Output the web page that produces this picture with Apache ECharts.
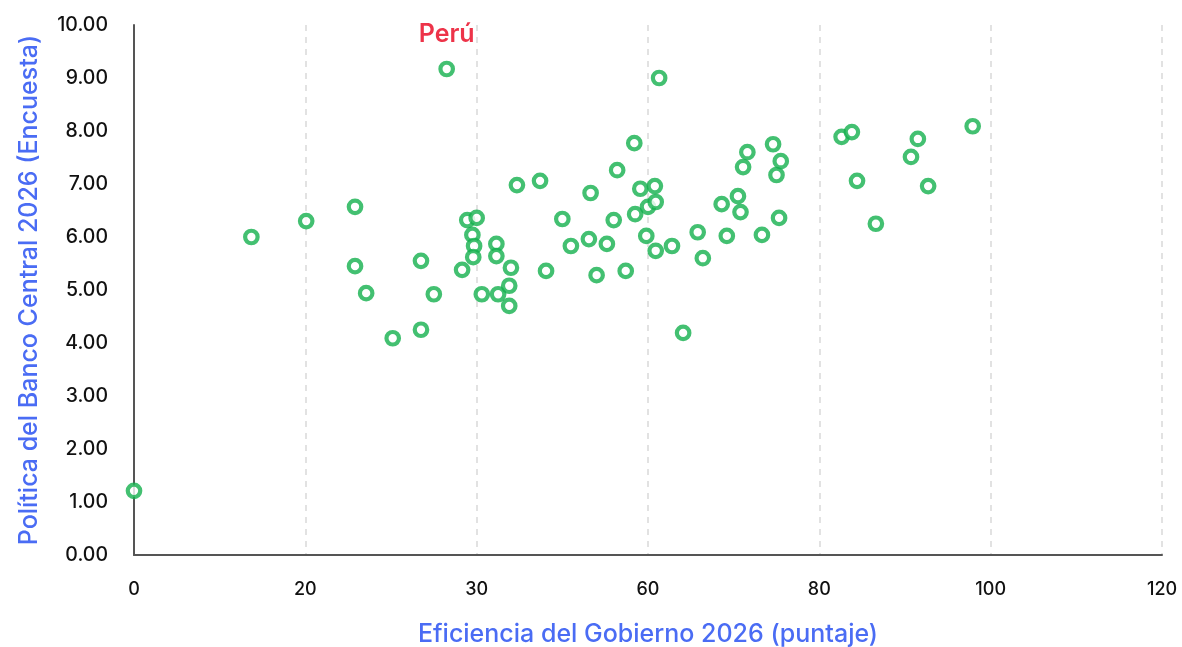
<!DOCTYPE html>
<html>
<head>
<meta charset="utf-8">
<script src="https://cdn.jsdelivr.net/npm/echarts@6/dist/echarts.min.js"></script>
<style>
    html, body { margin: 0; padding: 0; background: #fff; }
    #chart { width: 1182px; height: 647px; }
</style>
</head>
<body>
<div id="chart"></div>
<script>
// eficiencia del gobierno (x) / politica del banco central (y)
var efficiency = [0, 13.7, 20.1, 25.8, 25.8, 27.1, 30.2, 33.5, 33.5, 35.0,
    38.3, 38.9, 40.0, 39.5, 39.7, 39.6, 40.6, 42.3, 42.3, 42.5,
    43.8, 44.0, 43.8, 44.7, 47.4, 48.1, 50.0, 51.0, 53.1, 53.3,
    54.0, 55.2, 56.0, 56.4, 57.4, 58.4, 58.5, 59.1, 59.8, 60.0,
    60.9, 60.8, 60.9, 61.3, 62.8, 64.1, 65.8, 66.4, 68.6, 69.2,
    70.5, 70.8, 71.1, 71.6, 73.3, 74.6, 75.0, 75.5, 75.3, 82.6,
    83.8, 84.4, 86.6, 90.7, 91.5, 92.7, 97.9];
var policy = [1.21, 6.00, 6.30, 6.57, 5.45, 4.94, 4.09, 4.25, 5.55, 4.92,
    5.38, 6.32, 6.36, 6.04, 5.83, 5.62, 4.92, 5.87, 5.64, 4.92,
    5.08, 5.42, 4.70, 6.98, 7.06, 5.36, 6.34, 5.83, 5.96, 6.83,
    5.28, 5.87, 6.32, 7.26, 5.36, 7.77, 6.43, 6.91, 6.02, 6.57,
    6.66, 6.96, 5.74, 9.00, 5.83, 4.19, 6.09, 5.60, 6.62, 6.02,
    6.77, 6.47, 7.32, 7.60, 6.04, 7.75, 7.17, 7.43, 6.36, 7.89,
    7.98, 7.06, 6.25, 7.51, 7.85, 6.96, 8.09];
var peru = [36.5, 9.17];
var xTickLabels = ['0', '20', '30', '60', '80', '100', '120'];

(function () {
    var chart = echarts.init(document.getElementById('chart'));
    var green = '#14b04e';
    var font = 'Inter, "Noto Sans", sans-serif';

    var points = [];
    for (var i = 0; i < efficiency.length; i++) {
        points.push([efficiency[i], policy[i]]);
    }

    var ringStyle = {
        color: '#fff',
        borderColor: green,
        borderWidth: 4.2
    };

    chart.setOption({
        animation: false,
        grid: { left: 134, right: 20, top: 25, bottom: 92, outerBoundsMode: 'none' },
        xAxis: {
            type: 'value',
            min: 0,
            max: 120,
            interval: 20,
            name: 'Eficiencia del Gobierno 2026 (puntaje)',
            nameLocation: 'middle',
            nameGap: 67,
            nameTextStyle: { color: '#4a6cf4', fontSize: 25, fontWeight: 500, fontFamily: font },
            axisLine: { show: true, lineStyle: { color: '#555', width: 2 } },
            axisTick: { show: false },
            axisLabel: {
                color: '#111',
                fontSize: 18,
                fontWeight: 500,
                fontFamily: font,
                margin: 26,
                formatter: function (v, idx) {
                    return xTickLabels[idx];
                }
            },
            splitLine: { show: true, lineStyle: { color: '#e2e2e2', type: [6, 6], width: 2 } }
        },
        yAxis: {
            type: 'value',
            min: 0,
            max: 10,
            interval: 1,
            name: 'Política del Banco Central 2026 (Encuesta)',
            nameLocation: 'middle',
            nameGap: 92,
            nameTextStyle: { color: '#4a6cf4', fontSize: 25, fontWeight: 500, fontFamily: font },
            axisLine: { show: true, lineStyle: { color: '#555', width: 2 } },
            axisTick: { show: false },
            axisLabel: {
                color: '#111',
                fontSize: 19.5,
                fontWeight: 500,
                fontFamily: font,
                margin: 26,
                formatter: function (v) { return v.toFixed(2); }
            },
            splitLine: { show: false }
        },
        series: [{
            type: 'scatter',
            symbol: 'circle',
            symbolSize: 12.5,
            itemStyle: ringStyle,
            data: points
        }, {
            type: 'scatter',
            symbol: 'circle',
            symbolSize: 12.5,
            itemStyle: ringStyle,
            data: [peru],
            label: {
                show: true,
                position: 'top',
                distance: 14,
                formatter: 'Perú',
                color: '#e8001c',
                fontSize: 25,
                fontWeight: 600,
                fontFamily: font
            }
        }]
    });
})();
</script>
</body>
</html>
